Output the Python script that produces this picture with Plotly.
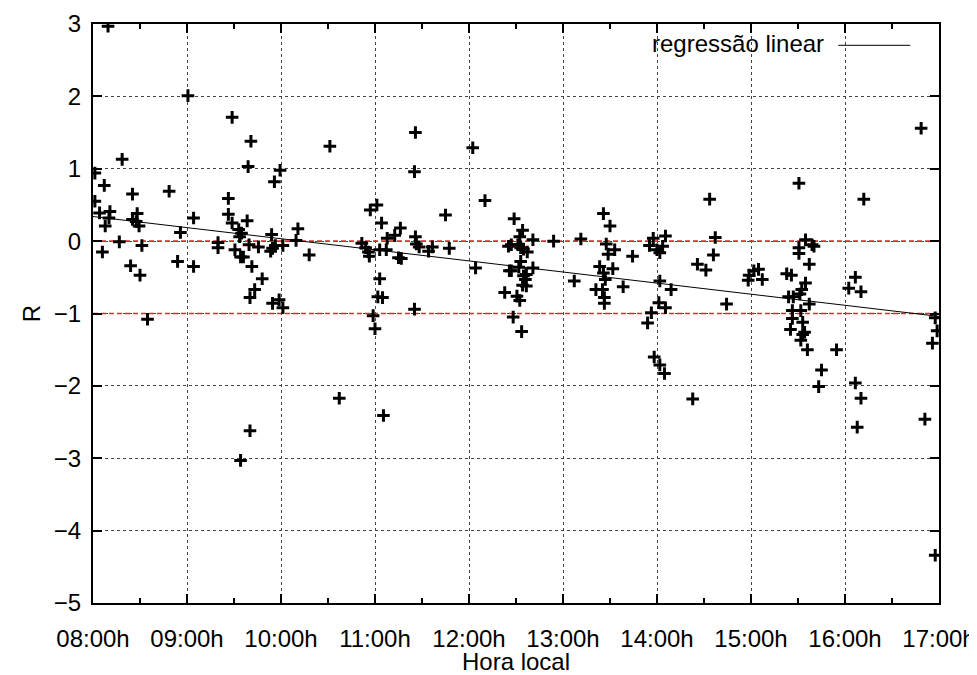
import plotly.graph_objects as go

# Local time (decimal hours) and R values
hora = [
    8.16, 8.31, 8.02, 8.12, 8.42, 8.81, 8.02, 8.07, 8.18, 8.17, 8.47, 8.42, 8.46, 8.49, 8.13,
    8.28, 8.52, 8.10, 8.40, 8.50, 8.58, 8.93, 8.90, 9.01, 9.07, 9.07,
    9.48, 9.68, 9.65, 9.99, 9.93, 9.44, 9.44, 9.48, 9.64, 9.55, 9.58, 9.56, 9.90, 10.18, 10.16,
    9.33, 9.33, 9.66, 9.76, 9.94, 10.02, 9.91, 9.89, 9.51, 9.57, 9.60, 9.69, 9.80, 9.72, 9.67,
    9.91, 9.98, 10.02, 9.67, 9.57, 10.30,
    10.52, 11.43, 11.42, 12.04, 12.17, 10.95, 11.02, 11.07, 11.27, 11.21, 11.13, 11.75, 10.86,
    10.90, 10.93, 10.94, 11.05, 11.12, 11.25, 11.28, 11.43, 11.44, 11.47, 11.57, 11.61, 11.79,
    11.05, 11.03, 11.08, 11.42, 12.07, 10.98, 11.00, 10.62, 11.09,
    12.48, 12.57, 12.54, 12.68, 12.90, 12.42, 12.45, 12.52, 12.55, 12.58, 12.62, 12.55, 12.53,
    12.68, 12.43, 12.45, 12.58, 12.61, 12.60, 12.57, 12.61, 12.38, 12.51, 12.54, 12.47, 12.56,
    13.12, 13.19, 13.43, 13.50, 13.46, 13.55, 13.48, 13.74, 13.39, 13.53, 13.43, 13.45, 13.35,
    13.42, 13.64, 13.44, 13.44,
    13.96, 13.92, 14.00, 14.03, 14.06, 14.09, 14.03, 14.15, 14.02, 14.09, 13.94, 13.90, 13.97,
    14.03, 14.08, 14.38, 14.43, 14.52, 14.56, 14.62, 14.60, 14.74,
    14.98, 15.03, 15.08, 14.97, 15.12,
    15.51, 15.58, 15.65, 15.67, 15.51, 15.51, 15.62, 15.38, 15.43, 15.58, 15.54, 15.52, 15.40,
    15.45, 15.62, 15.44, 15.53, 15.44, 15.55, 15.42, 15.57, 15.55, 15.53, 15.60, 15.91, 15.75,
    15.72,
    16.04, 16.11, 16.17, 16.20, 16.11, 16.17, 16.13, 16.81, 16.85, 16.96, 16.96, 16.98, 16.93,
]
r_vals = [
    2.97, 1.13, 0.94, 0.77, 0.65, 0.69, 0.55, 0.39, 0.41, 0.32, 0.38, 0.30, 0.27, 0.21, 0.21,
    -0.01, -0.06, -0.15, -0.34, -0.47, -1.08, 0.12, -0.28, 2.01, 0.32, -0.35,
    1.71, 1.38, 1.03, 0.98, 0.82, 0.59, 0.37, 0.25, 0.28, 0.16, 0.11, 0.06, 0.09, 0.17, 0.01,
    -0.02, -0.09, -0.05, -0.08, -0.06, -0.06, -0.10, -0.14, -0.12, -0.22, -0.22, -0.35, -0.52, -0.67, -0.78,
    -0.86, -0.81, -0.92, -2.62, -3.03, -0.19,
    1.31, 1.50, 0.96, 1.29, 0.56, 0.43, 0.50, 0.25, 0.18, 0.08, 0.04, 0.36, -0.03,
    -0.09, -0.15, -0.21, -0.12, -0.12, -0.23, -0.24, 0.06, -0.04, -0.08, -0.14, -0.08, -0.10,
    -0.52, -0.77, -0.78, -0.94, -0.37, -1.03, -1.21, -2.17, -2.41,
    0.31, 0.15, 0.06, 0.02, 0.00, -0.07, -0.05, -0.05, -0.09, -0.11, -0.15, -0.28, -0.36,
    -0.37, -0.41, -0.41, -0.48, -0.46, -0.53, -0.61, -0.62, -0.71, -0.76, -0.82, -1.05, -1.25,
    -0.55, 0.03, 0.38, 0.21, -0.04, -0.12, -0.18, -0.21, -0.35, -0.38, -0.44, -0.53, -0.67,
    -0.67, -0.63, -0.78, -0.86,
    0.04, -0.06, -0.12, -0.16, -0.07, 0.07, -0.55, -0.67, -0.85, -0.92, -0.99, -1.13, -1.60,
    -1.71, -1.83, -2.18, -0.32, -0.40, 0.58, 0.05, -0.19, -0.87,
    -0.47, -0.41, -0.39, -0.54, -0.53,
    0.80, 0.02, -0.05, -0.07, -0.09, -0.17, -0.32, -0.45, -0.47, -0.58, -0.67, -0.73, -0.77,
    -0.77, -0.87, -0.96, -0.96, -1.07, -1.12, -1.22, -1.26, -1.29, -1.37, -1.50, -1.50, -1.78,
    -2.01,
    -0.65, -0.50, -0.70, 0.58, -1.96, -2.17, -2.57, 1.56, -2.46, -4.34, -1.06, -1.24, -1.41,
]

# Linear regression line (end points)
reg_x = [8.0, 17.0]
reg_y = [0.34, -1.04]

# Reference levels (red dashed)
ref_levels = [0, -1]

# Axis ticks
x_tickvals = [8, 9, 10, 11, 12, 13, 14, 15, 16, 17]
x_ticktext = ["08:00h", "09:00h", "10:00h", "11:00h", "12:00h", "13:00h",
              "14:00h", "15:00h", "16:00h", "17:00h"]
y_tickvals = [3, 2, 1, 0, -1, -2, -3, -4, -5]

FONT = "Liberation Sans, Arial, Helvetica, sans-serif"
FS = 24

fig = go.Figure()

for lvl in ref_levels:
    fig.add_trace(go.Scatter(
        x=[x_tickvals[0], x_tickvals[-1]], y=[lvl, lvl], mode="lines",
        line=dict(color="#e62a2a", width=1.6, dash="5px,3px"),
        showlegend=False, hoverinfo="skip"))

fig.add_trace(go.Scatter(
    x=reg_x, y=reg_y, mode="lines",
    line=dict(color="black", width=1),
    name="regressão linear", showlegend=False))

fig.add_trace(go.Scatter(
    x=hora, y=r_vals, mode="markers",
    marker=dict(symbol="cross-thin", size=9, color="black",
                line=dict(color="black", width=3)),
    showlegend=False))

# gnuplot-style key: text on the left, sample line on the right
fig.add_annotation(
    xref="paper", yref="paper", x=0.866, y=0.967, xanchor="right", yanchor="middle",
    text="regressão linear", showarrow=False,
    font=dict(family=FONT, size=FS, color="black"))
fig.add_shape(type="line", xref="paper", yref="paper",
              x0=0.881, x1=0.966, y0=0.963, y1=0.963,
              line=dict(color="#333", width=1.2))

# the page body adds an 8px offset; figure sized to fill the 977x675 window
fig.update_layout(
    width=969, height=667,
    margin=dict(l=85, r=38, t=16, b=72, autoexpand=False),
    paper_bgcolor="white", plot_bgcolor="white",
    font=dict(family=FONT, size=FS, color="black"),
    showlegend=False,
)

fig.update_xaxes(
    range=[8, 17], tickvals=x_tickvals, ticktext=x_ticktext,
    ticks="inside", ticklen=9, tickwidth=1.5, tickcolor="black",
    minor=dict(dtick=0.5, tick0=8, ticks="inside", ticklen=5, tickwidth=1.5,
               tickcolor="black", showgrid=False),
    showline=True, linecolor="black", linewidth=2, mirror="ticks",
    showgrid=True, gridcolor="#444", griddash="dot", gridwidth=1,
    zeroline=False, ticklabelstandoff=13, automargin=False,
    title=dict(text="Hora local", font=dict(family=FONT, size=FS), standoff=8),
    tickfont=dict(family=FONT, size=FS),
)
fig.update_yaxes(
    range=[-5, 3], tickvals=y_tickvals,
    ticks="inside", ticklen=9, tickwidth=1.5, tickcolor="black",
    showline=True, linecolor="black", linewidth=2, mirror="ticks",
    showgrid=True, gridcolor="#444", griddash="dot", gridwidth=1,
    zeroline=False, ticklabelstandoff=5, automargin=False,
    title=dict(text="R", font=dict(family=FONT, size=FS), standoff=6),
    tickfont=dict(family=FONT, size=FS),
)

fig.write_html("out.html")
